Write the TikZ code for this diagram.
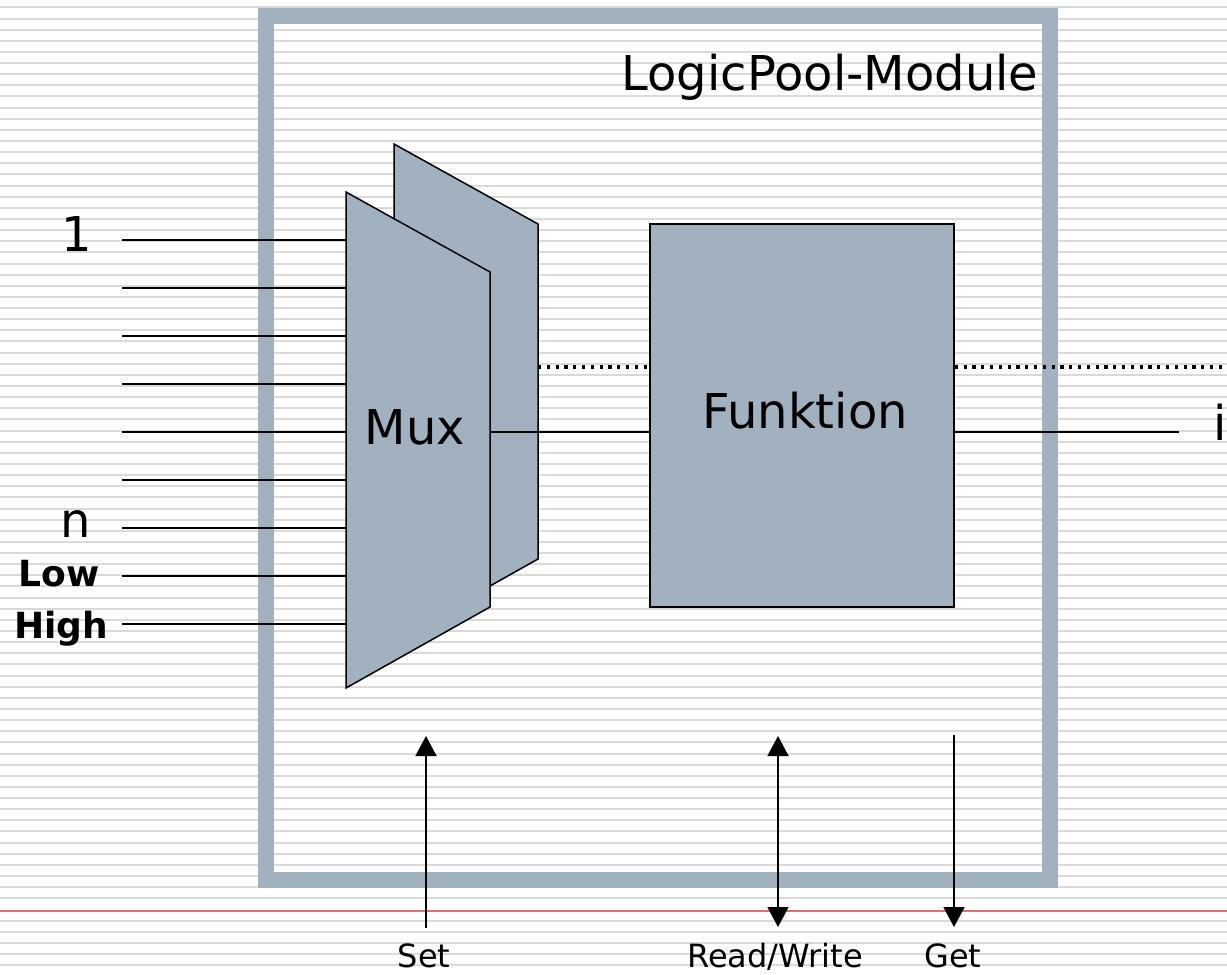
\documentclass[tikz,border=0pt]{standalone}
\usepackage{fontspec}
\setmainfont{DejaVu Sans}
\usetikzlibrary{arrows.meta}
\definecolor{stripecol}{RGB}{218,218,218}
\definecolor{blockcol}{RGB}{162,177,192}
\definecolor{rulered}{RGB}{224,112,112}
\tikzset{
  big/.style={font=\fontsize{48}{56}\selectfont, inner sep=0pt, anchor=base},
  pinbold/.style={font=\fontsize{36}{42}\selectfont\bfseries, inner sep=0pt, anchor=base},
  small/.style={font=\fontsize{32}{38}\selectfont, inner sep=0pt, anchor=base},
  wire/.style={line width=1.4pt, black},
  block/.style={fill=blockcol, draw=black, line width=1.5pt},
  dots/.style={line width=3.2pt, dash pattern=on 3.2pt off 5.6pt},
  arr/.style={line width=1.5pt, -{Triangle[width=21pt,length=20pt]}},
  dblarr/.style={line width=1.5pt, {Triangle[width=21pt,length=20pt]}-{Triangle[width=21pt,length=20pt]}}
}
\begin{document}
\begin{tikzpicture}[x=1pt, y=-1pt]
\useasboundingbox (0,0) rectangle (1227,975);
\fill[white] (0,0) rectangle (1227,975);

% ruled background, rules snapped to whole units
\foreach \k in {0,...,87} {
  \ifnum\k=81\relax\else
    \pgfmathtruncatemacro{\ry}{7.4+11.136*\k+0.5}
    \fill[stripecol] (0,\ry-1) rectangle (1227,\ry+1);
  \fi
}
\fill[rulered] (0,910) rectangle (1227,912);

% module frame
\draw[blockcol, line width=16pt] (266,16) rectangle (1050,880);
\node[big] (title) at (830,90) {LogicPool-Module};

% multiplexer pair
\draw[block] (394,144) -- (538,224) -- (538,559) -- (394,640) -- cycle;
\draw[block] (346,192) -- (490,272) -- (490,607) -- (346,688) -- cycle;
\node[big] (muxlabel) at (415,444) {Mux};

% function block
\node[block, rectangle, inner sep=0pt, minimum width=304pt, minimum height=383pt] (fk) at (802,415.5) {};
\node[big] (fklabel) at (805,428) {Funktion};

% inputs
\foreach \k in {0,...,8} {
  \coordinate (in\k) at (122,{240+48*\k});
  \coordinate (mx\k) at (346,{240+48*\k});
  \draw[wire] (in\k) -- (mx\k);
}
\node[big] (l1) at (77,251) {1};
\node[big] (ln) at (76,537.5) {n};
\node[pinbold] (llow) at (59,586) {Low};
\node[pinbold] (lhigh) at (61,638.5) {High};

% data path
\coordinate (muxout) at (490,432);
\draw[wire] (muxout) -- (muxout -| fk.west);
\coordinate (iend) at (1179,432);
\draw[wire] (iend -| fk.east) -- (iend);
\node[big] (li) at (1220,440.5) {i};

% dotted link
\coordinate (backout) at (538,367);
\coordinate (farright) at (1227,367);
\draw[dots] (backout) -- (backout -| fk.west);
\draw[dots] (farright -| fk.east) -- (farright);

% control lines
\coordinate (setfoot) at (426,928);
\coordinate (settip) at (426,736);
\draw[arr] (setfoot) -- (settip);
\coordinate (rwtop) at (778,736);
\coordinate (rwbot) at (778,927);
\draw[dblarr] (rwtop) -- (rwbot);
\coordinate (gettop) at (954,735);
\coordinate (gettip) at (954,927);
\draw[arr] (gettop) -- (gettip);
\node[small] (lset) at (424,967) {Set};
\node[small] (lrw) at (775,967) {Read/Write};
\node[small] (lget) at (953,967) {Get};
\end{tikzpicture}
\end{document}
